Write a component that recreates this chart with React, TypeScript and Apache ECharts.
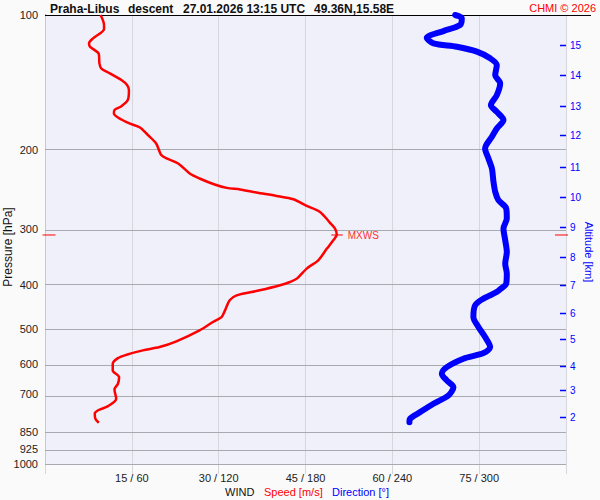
import React, { useEffect, useRef } from "react";
import * as echarts from "echarts";

// ---- data ----
const speedTickValues = [15, 30, 45, 60, 75];
const directionTickValues = [60, 120, 180, 240, 300];
const pressureLabels = [100, 200, 300, 400, 500, 600, 700, 850, 925, 1000];
const pressureGridLevels = [200, 300, 400, 500, 600, 700, 850, 925, 1000];
const altitudeKm = [2, 3, 4, 5, 6, 7, 8, 9, 10, 11, 12, 13, 14, 15];
const altitudePressure = [786.5, 685.8, 606.0, 527.6, 460.1, 398.4, 345.8, 296.5, 254.6, 217.5, 185.5, 159.6, 136.3, 116.7];

const speedPressure = [100, 105.3, 107.4, 112.7, 115.7, 117.7, 122.2, 128.1, 131.5, 134.9, 139.6, 143.3, 147.0, 154.7, 159.6, 162.8, 165.7, 169.1, 174.4, 178.0, 185.2, 193.2, 201.7, 205.2, 208.7, 214.1, 225.4, 231.3, 238.5, 242.7, 244.7, 248.5, 252.9, 257.2, 266.2, 274.5, 289.9, 299.0, 308.3, 317.5, 331.3, 351.8, 367.1, 386.5, 393.3, 399.9, 410.4, 421.1, 432.0, 454.8, 470.7, 482.9, 503.9, 533.2, 549.0, 558.4, 570.9, 581.0, 597.9, 618.8, 640.5, 662.6, 682.3, 715.6, 743.3, 759.9, 773.0, 793.0, 809.5];
const speedValues = [9.6, 10.2, 10.2, 8.3, 7.6, 7.8, 9.3, 9.4, 9.7, 11.2, 13.2, 14.2, 14.5, 14.3, 13.2, 12.0, 11.9, 12.6, 14.6, 16.4, 17.8, 19.2, 19.8, 20.1, 21.0, 23.0, 25.0, 26.7, 29.3, 31.4, 33.7, 36.5, 40.0, 42.9, 45.2, 47.5, 49.2, 50.1, 50.4, 49.8, 48.7, 47.2, 45.2, 43.5, 42.3, 40.6, 37.1, 33.1, 31.9, 31.1, 30.5, 29.0, 26.7, 22.7, 19.8, 16.9, 14.1, 12.6, 11.7, 11.7, 12.8, 12.6, 12.0, 12.3, 10.9, 9.1, 8.6, 8.7, 9.3];

const directionPressure = [100, 101.7, 105.3, 108.6, 112.4, 115.7, 117.7, 120.7, 124.9, 129.3, 136.1, 142.0, 150.8, 158.8, 164.3, 171.4, 178.9, 186.7, 198.2, 208.7, 219.7, 235.3, 247.7, 258.5, 269.8, 284.0, 299.0, 317.5, 337.2, 357.9, 376.7, 396.6, 408.2, 413.9, 428.2, 443.2, 470.7, 495.5, 521.6, 549.0, 566.2, 582.8, 608.5, 629.4, 651.4, 674.4, 703.7, 734.3, 766.5, 793.0, 807.1];
const directionValues = [283.4, 288.0, 286.8, 275.3, 263.8, 268.4, 284.6, 298.4, 307.6, 312.2, 311.1, 314.5, 312.2, 308.1, 312.2, 316.8, 312.2, 308.8, 304.1, 306.4, 308.8, 309.9, 311.1, 313.3, 318.7, 319.1, 316.8, 318.0, 319.1, 318.0, 319.1, 318.7, 314.5, 312.2, 303.0, 297.2, 296.0, 299.5, 304.1, 307.6, 303.0, 289.1, 277.6, 274.2, 277.6, 282.2, 278.7, 268.4, 259.2, 252.2, 251.8];

const maxWindSpeed = 50.4;
const maxWindPressure = 309.0;

const FONT = '"Liberation Sans", Arial, Helvetica, sans-serif';

export default function App() {
  const ref = useRef<HTMLDivElement>(null);

  useEffect(() => {
    if (!ref.current) return;
    const chart = echarts.init(ref.current, undefined, { renderer: "svg" });
    const lg = (p: number) => Math.log10(p);

    const option: any = {
      animation: false,
      backgroundColor: "#fafafa",
      textStyle: { fontFamily: FONT },
      grid: {
        left: 45,
        top: 15,
        width: 521,
        height: 449,
        show: true,
        backgroundColor: "#f0f0fb",
        borderWidth: 0,
      },
      xAxis: [
        {
          type: "value",
          min: 0,
          max: 90,
          interval: 15,
          axisLine: { show: false },
          axisTick: { show: true, length: 10, lineStyle: { color: "#d6d6dc" } },
          splitLine: { show: true, lineStyle: { color: "#d6d6dc", width: 1 } },
          axisLabel: {
            margin: 8,
            fontSize: 11,
            color: "#222",
            fontFamily: FONT,
            formatter: (v: number) => {
              const i = speedTickValues.indexOf(v);
              return i >= 0 ? `${v} / ${directionTickValues[i]}` : "";
            },
          },
        },
        { type: "value", min: 0, max: 360, show: false },
      ],
      yAxis: [
        {
          type: "value",
          min: 2,
          max: 3,
          inverse: true,
          position: "left",
          axisLine: { show: true, lineStyle: { color: "#000", width: 1 } },
          axisTick: { show: false },
          splitLine: { show: false },
          axisLabel: {
            customValues: pressureLabels.map(lg),
            formatter: (v: number) => String(Math.round(Math.pow(10, v))),
            fontSize: 11,
            color: "#222",
            margin: 7,
            fontFamily: FONT,
          },
        },
        {
          type: "value",
          min: 2,
          max: 3,
          inverse: true,
          position: "right",
          axisLine: { show: true, lineStyle: { color: "#c8c8d2", width: 1 } },
          axisTick: { show: false },
          splitLine: { show: false },
          axisLabel: { show: false },
        },
      ],
      series: [
        {
          type: "line",
          xAxisIndex: 0,
          yAxisIndex: 0,
          data: [[0, 2]],
          symbol: "none",
          lineStyle: { width: 0, opacity: 0 },
          silent: true,
          z: 1,
          markLine: {
            silent: true,
            z: 1,
            symbol: ["none", "none"],
            label: { show: false },
            lineStyle: { color: "#a9a9b0", width: 1, type: "solid" },
            data: pressureGridLevels.map((p) => ({ yAxis: lg(p) })),
          },
        },
        {
          type: "line",
          name: "Speed",
          xAxisIndex: 0,
          yAxisIndex: 0,
          data: speedValues.map((s, i) => [s, lg(speedPressure[i])]),
          symbol: "none",
          smooth: 0.3,
          lineStyle: { color: "#ff0000", width: 2.5 },
          z: 3,
        },
        {
          type: "line",
          name: "Direction",
          xAxisIndex: 1,
          yAxisIndex: 0,
          data: directionValues.map((d, i) => [d, lg(directionPressure[i])]),
          symbol: "none",
          smooth: 0.3,
          clip: false,
          lineStyle: { color: "#0000ff", width: 6, cap: "round", join: "round" },
          z: 3,
        },
        {
          // altitude scale on the right edge
          type: "custom",
          xAxisIndex: 0,
          yAxisIndex: 0,
          clip: false,
          silent: true,
          z: 4,
          data: altitudeKm.map((km, i) => [90, lg(altitudePressure[i]), km]),
          renderItem: (_params: any, api: any) => {
            const pt = api.coord([api.value(0), api.value(1)]);
            const y = Math.round(pt[1]) + 0.5;
            return {
              type: "group",
              children: [
                { type: "line", shape: { x1: pt[0] - 6, y1: y, x2: pt[0], y2: y }, style: { stroke: "#0000ff", lineWidth: 1.5 } },
                {
                  type: "text",
                  style: {
                    text: String(api.value(2)),
                    x: pt[0] + 4,
                    y: y,
                    verticalAlign: "middle",
                    fill: "#0000ff",
                    fontSize: 10,
                    fontFamily: FONT,
                  },
                },
              ],
            };
          },
        },
        {
          type: "custom",
          xAxisIndex: 0,
          yAxisIndex: 0,
          clip: false,
          silent: true,
          z: 5,
          data: [[maxWindSpeed, lg(maxWindPressure)]],
          renderItem: (_params: any, api: any) => {
            const yv = api.value(1);
            const pt = api.coord([api.value(0), yv]);
            const left = api.coord([0, yv]);
            const right = api.coord([90, yv]);
            const st = { stroke: "#ff0000", lineWidth: 1 };
            return {
              type: "group",
              children: [
                { type: "line", shape: { x1: left[0] - 2.5, y1: pt[1], x2: left[0] + 10.5, y2: pt[1] }, style: st },
                { type: "line", shape: { x1: right[0] - 11, y1: pt[1], x2: right[0] + 2, y2: pt[1] }, style: st },
                { type: "line", shape: { x1: pt[0] - 5.5, y1: pt[1], x2: pt[0] + 6, y2: pt[1] }, style: st },
                {
                  type: "text",
                  style: {
                    text: "MXWS",
                    x: pt[0] + 11,
                    y: pt[1] + 0.5,
                    verticalAlign: "middle",
                    fill: "#ff3030",
                    fontSize: 10,
                    fontFamily: FONT,
                  },
                },
              ],
            };
          },
        },
      ],
      graphic: [
        { type: "line", z: 1, shape: { x1: 45, y1: 15.5, x2: 591, y2: 15.5 }, style: { stroke: "#000", lineWidth: 1 } },
        { type: "text", x: 50, y: 8.5, style: { text: "Praha-Libus", fontSize: 12, fontWeight: "bold", fontFamily: FONT, fill: "#111", verticalAlign: "middle" } },
        { type: "text", x: 128, y: 8.5, style: { text: "descent", fontSize: 12, fontWeight: "bold", fontFamily: FONT, fill: "#111", verticalAlign: "middle" } },
        { type: "text", x: 183, y: 8.5, style: { text: "27.01.2026 13:15 UTC", fontSize: 12, fontWeight: "bold", fontFamily: FONT, fill: "#111", verticalAlign: "middle" } },
        { type: "text", x: 314, y: 8.5, style: { text: "49.36N,15.58E", fontSize: 12, fontWeight: "bold", fontFamily: FONT, fill: "#111", verticalAlign: "middle" } },
        { type: "text", x: 596, y: 8, style: { text: "CHMI © 2026", fontSize: 11, fontFamily: FONT, fill: "#ff0000", align: "right", verticalAlign: "middle" } },
        { type: "text", x: 225, y: 491.5, style: { text: "WIND", fontSize: 11, fontFamily: FONT, fill: "#111", verticalAlign: "middle" } },
        { type: "text", x: 264, y: 491.5, style: { text: "Speed [m/s]", fontSize: 11, fontFamily: FONT, fill: "#ff0000", verticalAlign: "middle" } },
        { type: "text", x: 332, y: 491.5, style: { text: "Direction [°]", fontSize: 11, fontFamily: FONT, fill: "#0000ff", verticalAlign: "middle" } },
        { type: "text", x: 7.5, y: 247, rotation: Math.PI / 2, style: { text: "Pressure [hPa]", fontSize: 12, fontFamily: FONT, fill: "#111", align: "center", verticalAlign: "middle" } },
        { type: "text", x: 589, y: 252, rotation: -Math.PI / 2, style: { text: "Altitude [km]", fontSize: 11, fontFamily: FONT, fill: "#0000ff", align: "center", verticalAlign: "middle" } },
      ],
    };

    chart.setOption(option);
    return () => {
      chart.dispose();
    };
  }, []);

  return <div ref={ref} style={{ width: 600, height: 500, position: "absolute", left: 0, top: 0 }} />;
}
